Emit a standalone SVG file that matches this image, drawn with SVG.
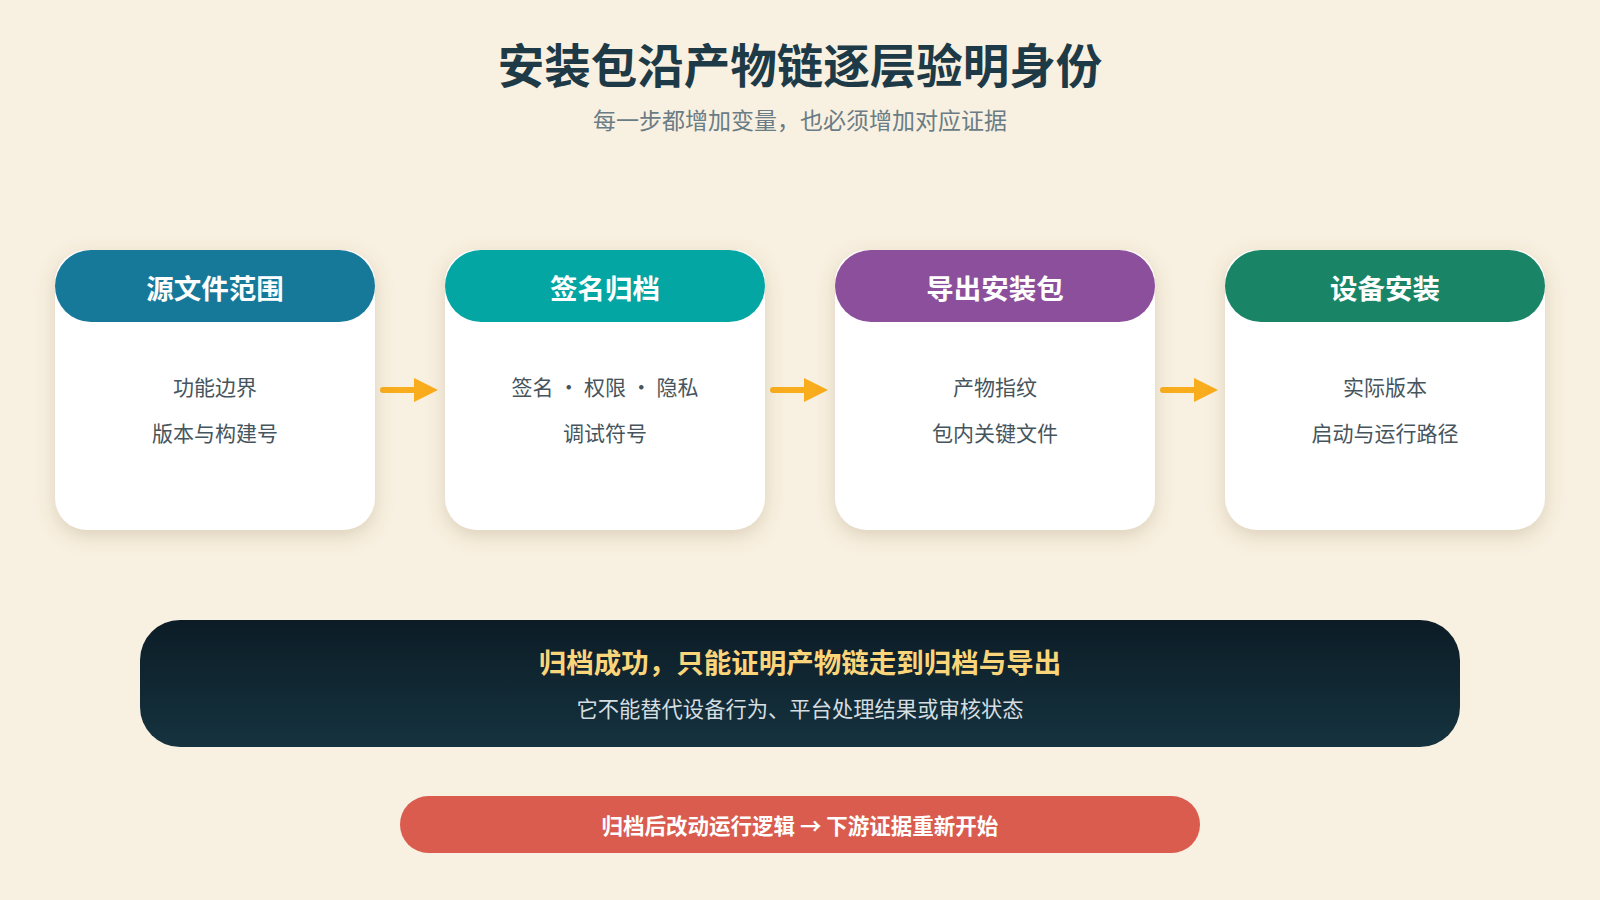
<svg xmlns="http://www.w3.org/2000/svg" width="1600" height="900" viewBox="0 0 1600 900">
<defs>
<style>
text{font-family:"Noto Sans CJK SC","Noto Sans",sans-serif;text-anchor:middle;}
.title{font-size:46.5px;font-weight:700;fill:#1d3a46;}
.sub{font-size:23px;fill:#6a7c85;}
.card{fill:#ffffff;filter:url(#sh);}
.hdr-t{font-size:27.5px;font-weight:700;fill:#ffffff;}
.body{font-size:21px;fill:#46555d;}
.conn{stroke:#F9AC1C;stroke-width:6;stroke-linecap:round;fill:none;}
.bt{font-size:27.5px;font-weight:700;fill:#FBD57A;}
.bs{font-size:21.3px;fill:#d6dde0;}
.rt{font-size:21.5px;font-weight:700;fill:#ffffff;}
</style>
<filter id="sh" x="-20%" y="-20%" width="140%" height="150%">
<feDropShadow dx="0" dy="6" stdDeviation="9" flood-color="#8a7550" flood-opacity="0.25"/>
</filter>
<linearGradient id="dk" x1="0" y1="0" x2="0" y2="1">
<stop offset="0" stop-color="#0c1c26"/>
<stop offset="1" stop-color="#15333f"/>
</linearGradient>
<marker id="ah" markerWidth="4" markerHeight="4" refX="0" refY="2" orient="auto" markerUnits="strokeWidth">
<path d="M0,0 L4,2 L0,4 Z" fill="#F9AC1C"/>
</marker>
</defs>
<rect width="1600" height="900" fill="#F8F0E0"/>
<g id="header">
<text class="title" x="800" y="83">安装包沿产物链逐层验明身份</text>
<text class="sub" x="800" y="129">每一步都增加变量，也必须增加对应证据</text>
</g>
<g id="connectors">
<line class="conn" x1="383" y1="390" x2="414" y2="390" marker-end="url(#ah)"/>
<line class="conn" x1="773" y1="390" x2="804" y2="390" marker-end="url(#ah)"/>
<line class="conn" x1="1163" y1="390" x2="1194" y2="390" marker-end="url(#ah)"/>
</g>
<g id="node1">
<rect class="card" x="55" y="250" width="320" height="280" rx="32"/>
<rect x="55" y="250" width="320" height="72" rx="36" fill="#17799A"/>
<text class="hdr-t" x="215" y="299">源文件范围</text>
<text class="body" x="215" y="395">功能边界</text>
<text class="body" x="215" y="441">版本与构建号</text>
</g>
<g id="node2">
<rect class="card" x="445" y="250" width="320" height="280" rx="32"/>
<rect x="445" y="250" width="320" height="72" rx="36" fill="#03A6A3"/>
<text class="hdr-t" x="605" y="299">签名归档</text>
<text class="body" x="605" y="395">签名 · 权限 · 隐私</text>
<text class="body" x="605" y="441">调试符号</text>
</g>
<g id="node3">
<rect class="card" x="835" y="250" width="320" height="280" rx="32"/>
<rect x="835" y="250" width="320" height="72" rx="36" fill="#8C4F9B"/>
<text class="hdr-t" x="995" y="299">导出安装包</text>
<text class="body" x="995" y="395">产物指纹</text>
<text class="body" x="995" y="441">包内关键文件</text>
</g>
<g id="node4">
<rect class="card" x="1225" y="250" width="320" height="280" rx="32"/>
<rect x="1225" y="250" width="320" height="72" rx="36" fill="#198566"/>
<text class="hdr-t" x="1385" y="299">设备安装</text>
<text class="body" x="1385" y="395">实际版本</text>
<text class="body" x="1385" y="441">启动与运行路径</text>
</g>
<g id="banner">
<rect x="140" y="620" width="1320" height="127" rx="40" fill="url(#dk)"/>
<text class="bt" x="800" y="673">归档成功，只能证明产物链走到归档与导出</text>
<text class="bs" x="800" y="717">它不能替代设备行为、平台处理结果或审核状态</text>
</g>
<g id="warning">
<rect x="400" y="796" width="800" height="57" rx="28.5" fill="#D95C4F"/>
<text class="rt" x="800" y="834">归档后改动运行逻辑 → 下游证据重新开始</text>
</g>
</svg>
